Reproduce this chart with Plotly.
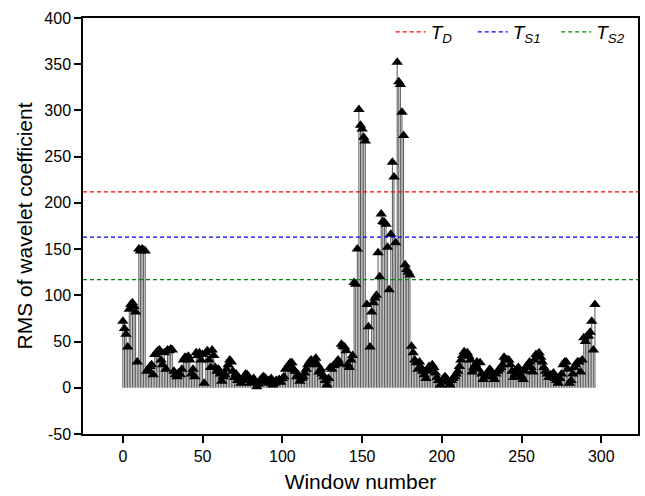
import plotly.graph_objects as go

# RMS of wavelet coefficient per window
rms = [
    72, 64, 58, 44, 85, 90, 92, 88, 82, 28,
    150, 148, 150, 149, 148, 18, 20, 23, 25, 14,
    36, 38, 40, 41, 30, 25, 38, 20, 41, 40,
    42, 41, 18, 14, 12, 16, 14, 20, 30, 33,
    32, 34, 30, 15, 20, 12, 38, 35, 38, 30,
    36, 5, 38, 40, 30, 22, 41, 35, 22, 18,
    20, 15, 7, 12, 14, 20, 25, 30, 28, 18,
    11, 15, 8, 10, 5, 8, 12, 15, 14, 10,
    5, 8, 10, 6, 1, 4, 8, 10, 12, 11,
    6, 8, 5, 10, 3, 5, 8, 7, 9, 6,
    10, 12, 20, 22, 25, 27, 27, 20, 18, 12,
    14, 7, 10, 12, 16, 20, 25, 28, 30, 26,
    30, 32, 25, 17, 20, 15, 12, 8, 3, 10,
    22, 20, 24, 25, 28, 30, 26, 47, 45, 44,
    40, 25, 22, 30, 35, 114, 112, 150, 301, 284,
    280, 271, 267, 90, 66, 44, 82, 92, 97, 100,
    146, 120, 188, 180, 179, 177, 152, 106, 166, 244,
    228, 157, 352, 331, 328, 298, 273, 133, 128, 125,
    122, 45, 38, 30, 27, 20, 28, 22, 18, 14,
    10, 18, 23, 20, 25, 22, 16, 11, 8, 3,
    8, 10, 12, 10, 6, 3, 8, 10, 12, 15,
    18, 23, 30, 35, 39, 36, 38, 34, 30, 17,
    22, 25, 28, 20, 27, 15, 9, 12, 15, 17,
    20, 18, 12, 9, 15, 18, 20, 22, 25, 33,
    31, 30, 30, 25, 18, 11, 15, 20, 22, 15,
    12, 9, 18, 23, 25, 28, 22, 17, 30, 36,
    35, 38, 33, 28, 22, 18, 15, 11, 14, 12,
    16, 10, 8, 5, 10, 15, 25, 28, 28, 20,
    5, 8, 15, 22, 25, 28, 28, 17, 30, 54,
    50, 56, 56, 60, 72, 41, 90,
]
windows = list(range(len(rms)))

# thresholds
thresholds = [212, 163, 117]
threshold_names = ["<i>T</i><sub><i>D</i></sub>&nbsp;&nbsp;&nbsp;",
                   "<i>T</i><sub><i>S1</i></sub>&nbsp;&nbsp;",
                   "<i>T</i><sub><i>S2</i></sub>"]
threshold_colors = ["#ff0000", "#0000ff", "#008800"]

x_ticks = [0, 50, 100, 150, 200, 250, 300]
y_ticks = [-50, 0, 50, 100, 150, 200, 250, 300, 350, 400]
y_ticktext = ["-50", "0", "50", "100", "150", "200", "250", "300", "350", "400"]

FONT = "Liberation Sans, Arial"

# stems
sx, sy = [], []
for w, v in zip(windows, rms):
    sx += [w, w, None]
    sy += [0, v, None]

fig = go.Figure()
fig.add_trace(go.Scatter(x=sx, y=sy, mode="lines",
                         line=dict(color="#555555", width=1),
                         showlegend=False, hoverinfo="skip"))
fig.add_trace(go.Scatter(x=windows, y=rms, mode="markers",
                         marker=dict(symbol="triangle-up", size=10, color="black"),
                         showlegend=False))

for t, name, c in zip(thresholds, threshold_names, threshold_colors):
    fig.add_trace(go.Scatter(x=[-25, 323], y=[t, t], mode="lines",
                             line=dict(color=c, width=1.3, dash="4px,3px"),
                             name=name))

axis_common = dict(showline=True, linecolor="black", linewidth=1.5, mirror=True,
                   ticks="outside", ticklen=7, tickwidth=1.5, tickcolor="black",
                   showgrid=False, zeroline=False,
                   tickfont=dict(family=FONT, size=16, color="black"))

fig.update_xaxes(range=[-25, 323], tickvals=x_ticks,
                 title=dict(text="Window number",
                            font=dict(family=FONT, size=21, color="black"),
                            standoff=10),
                 **axis_common)
fig.update_yaxes(range=[-50, 400], tickvals=y_ticks, ticktext=y_ticktext,
                 title=dict(text="RMS of wavelet coefficient",
                            font=dict(family=FONT, size=21, color="black"),
                            standoff=6),
                 **axis_common)

fig.update_layout(
    width=645, height=496,
    margin=dict(l=83, r=5, t=18, b=62),
    plot_bgcolor="white", paper_bgcolor="white",
    legend=dict(orientation="h", x=0.985, xanchor="right", y=1.012, yanchor="top",
                bgcolor="rgba(0,0,0,0)",
                font=dict(family=FONT, size=19, color="black"),
                itemwidth=30),
)

fig.write_html("out.html")
